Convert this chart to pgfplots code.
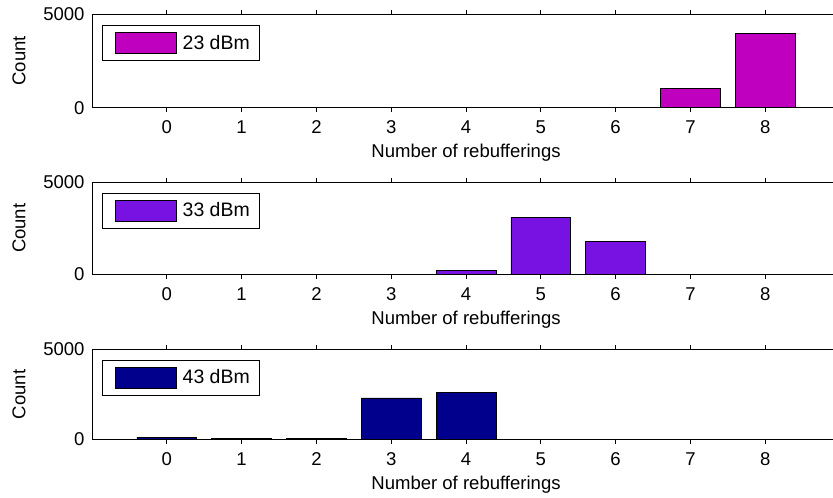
\documentclass[border=0pt]{standalone}
\usepackage{pgfplots}
\pgfplotsset{compat=1.18}
\usepackage{fontspec}
\setmainfont{Liberation Sans}

\definecolor{pmag}{RGB}{191,0,191}
\definecolor{pvio}{RGB}{120,18,226}
\definecolor{pnavy}{RGB}{0,0,140}

\pgfplotsset{
  % filled patch used as the legend sample of each bar series
  barpatch/.style={
    draw=black, line width=0.5pt,
    legend image code/.code={
      \path[fill=none, draw=none] (-9.75pt,-13.3pt) rectangle (45.75pt,13.3pt);
      \draw[##1] (0pt,-7.875pt) rectangle (45.75pt,7.875pt);
    },
  },
  histo/.style={
    scale only axis,
    width=561pt,
    xmin=-1, xmax=9, ymin=0, ymax=5000,
    xtick={0,...,8},
    ytick={0,5000}, yticklabels={0,5000},
    scaled ticks=false,
    /pgf/number format/assume math mode=true,
    tick align=inside,
    xtick pos=both, ytick pos=left,
    major tick length=3pt,
    axis line style={line width=0.6pt},
    every tick/.style={black, line width=0.5pt},
    tick label style={font=\fontsize{13.9}{16}\selectfont},
    label style={font=\fontsize{13.9}{16}\selectfont},
    xticklabel style={yshift=-3.4pt},
    yticklabel style={xshift=-2.1pt},
    xlabel={Number of rebufferings},
    ylabel={Count},
    x label style={at={(axis description cs:0.5,0)}, anchor=center, yshift=-34pt},
    y label style={at={(axis description cs:-0.0976,0.5)}, anchor=center},
    ybar, bar width=0.8, bar shift=0pt,
    legend style={
      at={(axis description cs:0.0134,0.883)}, anchor=north west,
      draw=black, line width=0.5pt, inner sep=0pt,
      column sep=0pt,
      nodes={inner sep=0pt, anchor=west},
      font=\fontsize{14.6}{16}\selectfont,
    },
  },
}

\begin{document}
\begin{tikzpicture}
\useasboundingbox (0pt,0pt) rectangle (624.75pt,-372.75pt);

% 23 dBm
\begin{axis}[histo, at={(69pt,-10.5pt)}, anchor=north west, height=70.3pt]
\addplot[fill=pmag, barpatch] coordinates {
  (0,0) (1,0) (2,0) (3,0) (4,0) (5,0) (6,0) (7,1050) (8,3960)};
\addlegendentry{\kern4.5pt 23 dBm\kern7.5pt}
\end{axis}

% 33 dBm
\begin{axis}[histo, at={(69pt,-136.5pt)}, anchor=north west, height=69.4pt]
\addplot[fill=pvio, barpatch] coordinates {
  (0,0) (1,0) (2,0) (3,0) (4,230) (5,3100) (6,1800) (7,0) (8,0)};
\addlegendentry{\kern4.5pt 33 dBm\kern7.5pt}
\end{axis}

% 43 dBm
\begin{axis}[histo, at={(69pt,-261.75pt)}, anchor=north west, height=67.9pt]
\addplot[fill=pnavy, barpatch] coordinates {
  (0,130) (1,60) (2,60) (3,2300) (4,2580) (5,0) (6,0) (7,0) (8,0)};
\addlegendentry{\kern4.5pt 43 dBm\kern7.5pt}
\end{axis}
\end{tikzpicture}
\end{document}
